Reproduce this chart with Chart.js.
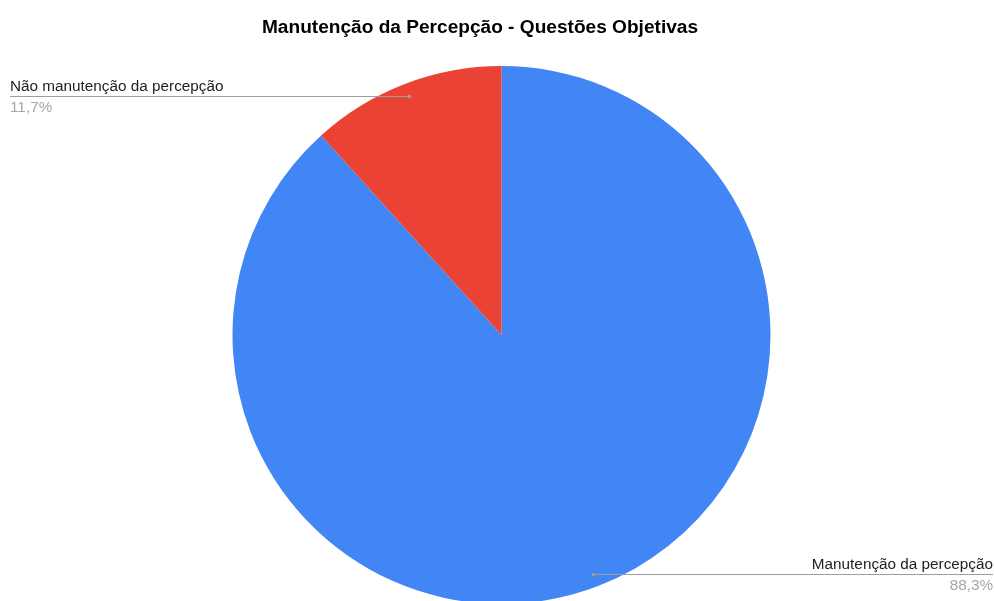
<!DOCTYPE html>
<html lang="pt">
<head>
<meta charset="utf-8">
<title>Manutenção da Percepção - Questões Objetivas</title>
<script src="https://cdn.jsdelivr.net/npm/chart.js@4/dist/chart.umd.min.js"></script>
<style>
  html, body { margin: 0; padding: 0; background: #fff; }
  #wrap { width: 994px; height: 601px; position: relative; }
</style>
</head>
<body>
<div id="wrap"><canvas id="pie"></canvas></div>
<script>
// Dados
const titulo   = 'Manutenção da Percepção - Questões Objetivas';
const rotulos  = ['Manutenção da percepção', 'Não manutenção da percepção'];
const valores  = [88.3, 11.7];
const cores    = ['#4285F4', '#EA4335'];

const FONTE = '"Liberation Sans", Arial, sans-serif';

// Título e rótulos com linha guia, desenhados sobre o gráfico
const rotulosGuia = {
  id: 'rotulosGuia',
  afterDraw(chart) {
    const ctx = chart.ctx;
    const W = chart.width;
    ctx.save();

    // título
    ctx.font = 'bold 19.1px ' + FONTE;
    ctx.fillStyle = '#000';
    ctx.textAlign = 'center';
    ctx.textBaseline = 'alphabetic';
    ctx.fillText(titulo, 480, 33);

    const meta = chart.getDatasetMeta(0);
    meta.data.forEach((arc, i) => {
      const { x, y, startAngle, endAngle, outerRadius } = arc.getProps(
        ['x', 'y', 'startAngle', 'endAngle', 'outerRadius'], true);
      const meio = (startAngle + endAngle) / 2;
      const px = x + Math.cos(meio) * outerRadius * 0.952;
      const py = Math.round(y + Math.sin(meio) * outerRadius * 0.952);
      const esquerda = px < x;
      const x0 = esquerda ? 10 : W - 1;

      // linha guia
      ctx.strokeStyle = '#9e9e9e';
      ctx.lineWidth = 1;
      ctx.beginPath();
      ctx.moveTo(x0, py + 0.5);
      ctx.lineTo(px, py + 0.5);
      ctx.stroke();
      ctx.fillStyle = '#9e9e9e';
      ctx.beginPath();
      ctx.arc(px, py + 0.5, 1.8, 0, Math.PI * 2);
      ctx.fill();

      // texto
      ctx.textAlign = esquerda ? 'left' : 'right';
      ctx.font = '15.3px ' + FONTE;
      ctx.fillStyle = '#222';
      ctx.fillText(rotulos[i], x0, py - 5);
      ctx.fillStyle = '#a6a6a6';
      ctx.fillText(valores[i].toFixed(1).replace('.', ',') + '%', x0, py + 16);
    });
    ctx.restore();
  }
};

new Chart(document.getElementById('pie'), {
  type: 'pie',
  data: {
    labels: rotulos,
    datasets: [{
      data: valores,
      backgroundColor: cores,
      borderWidth: 0,
      hoverOffset: 0
    }]
  },
  options: {
    responsive: true,
    maintainAspectRatio: false,
    animation: false,
    radius: 269,
    layout: { padding: { top: 69, bottom: 0, left: 9, right: 0 } },
    plugins: {
      legend: { display: false },
      title: { display: false },
      tooltip: { enabled: false }
    }
  },
  plugins: [rotulosGuia]
});
</script>
</body>
</html>
